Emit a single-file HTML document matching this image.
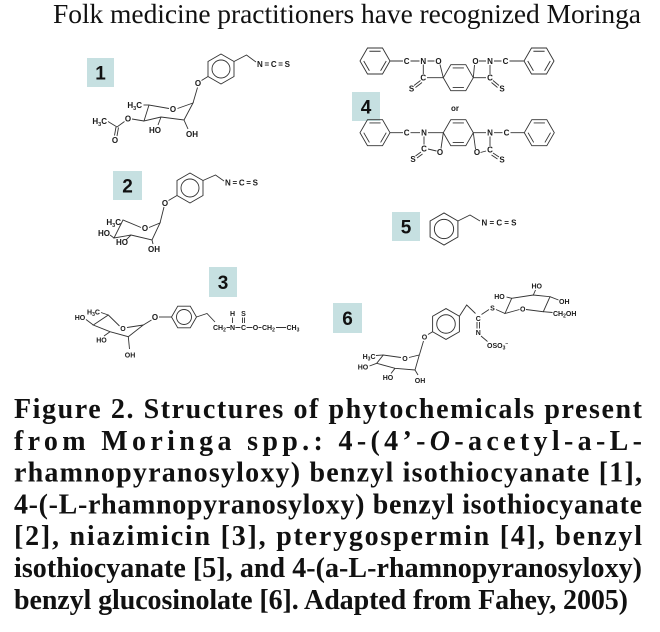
<!DOCTYPE html>
<html><head><meta charset="utf-8"><style>
html,body{margin:0;padding:0;background:#fff;}
svg{display:block;}
.lb{font-family:"Liberation Sans",Arial,sans-serif;font-size:8px;font-weight:bold;fill:#1a1a1a;}
.sm{font-family:"Liberation Sans",Arial,sans-serif;font-size:7px;font-weight:bold;fill:#1a1a1a;}
.num{font-family:"Liberation Sans",Arial,sans-serif;font-size:19px;font-weight:bold;fill:#111;}
.cap{font-family:"Liberation Serif","Times New Roman",serif;font-size:28px;font-weight:bold;fill:#111;}
.ttl{font-family:"Liberation Serif","Times New Roman",serif;font-size:27.5px;fill:#111;}
</style></head><body>
<svg width="660" height="632" viewBox="0 0 660 632" xmlns="http://www.w3.org/2000/svg">
<rect width="660" height="632" fill="#fff"/>
<defs>
 <g id="aro"><polygon points="0,-15 13,-7.5 13,7.5 0,15 -13,7.5 -13,-7.5"/><circle r="9"/></g>
 <g id="aro2"><polygon points="12.5,0 6.25,10.8 -6.25,10.8 -12.5,0 -6.25,-10.8 6.25,-10.8"/><circle r="7.5"/></g>
 <g id="kek"><polygon points="15,0 7.5,13 -7.5,13 -15,0 -7.5,-13 7.5,-13"/><path d="M-5.6,-9.75 L5.6,-9.75 M11.25,0 L5.6,9.75 M-5.6,9.75 L-11.25,0"/></g>
 <g id="dien"><polygon points="15,0 7.5,13 -7.5,13 -15,0 -7.5,-13 7.5,-13"/><path d="M-5.6,-9.75 L5.6,-9.75 M-5.6,9.75 L5.6,9.75"/></g>
</defs>

<text class="ttl" x="53" y="23" textLength="588" lengthAdjust="spacing">Folk medicine practitioners have recognized Moringa</text>

<!-- number boxes -->
<g fill="#c6e0e1">
 <rect x="87" y="58" width="27" height="29"/>
 <rect x="352" y="92" width="28" height="29"/>
 <rect x="113" y="171" width="29" height="29"/>
 <rect x="392" y="212" width="28" height="29"/>
 <rect x="209" y="267" width="28" height="30"/>
 <rect x="333" y="303" width="29" height="30"/>
</g>
<g class="num" text-anchor="middle">
 <text class="num" x="100.5" y="79.5">1</text>
 <text class="num" x="366" y="113.5">4</text>
 <text class="num" x="127.5" y="192.5">2</text>
 <text class="num" x="406" y="233.5">5</text>
 <text class="num" x="223" y="289">3</text>
 <text class="num" x="347.5" y="325">6</text>
</g>

<g stroke="#333" stroke-width="0.9" fill="none">
 <!-- Structure 1 -->
 <use href="#aro" transform="translate(221,69)"/>
 <path d="M234,61.5 L246.5,55 L256,62"/>
 <path d="M208,76.5 L201.5,80.5"/>
 <path d="M197.5,87.5 L193,103"/>
 <path d="M169,108.5 L149,105 L144,121 L161,117 L184,120 L193,103 L177.5,108.5"/>
 <path d="M149,105 L143.5,105"/>
 <path d="M184,120 L188,129"/>
 <path d="M161,117 L158,125"/>
 <path d="M144,121 L132,119"/>
 <path d="M124.5,121.5 L117,127 L108,121.5"/>
 <path d="M116,127 L114.5,135.5 M118.5,127.5 L117,136"/>

 <!-- Structure 2 -->
 <use href="#aro" transform="translate(190,188)"/>
 <path d="M203,180.5 L215.5,175 L224,181"/>
 <path d="M177,195.5 L168.5,200.5"/>
 <path d="M164,207 L160,223"/>
 <path d="M141,227.5 L123,220 L114,238 L131,235 L152,240 L160,223 L149,227.5"/>
 <path d="M114,238 L110,235"/>
 <path d="M131,235 L126,240"/>
 <path d="M152,240 L153,244"/>

 <!-- Structure 3 -->
 <use href="#aro2" transform="translate(184,317)"/>
 <path d="M171.5,317 L159,317"/>
 <path d="M151.5,320 L143.3,325"/>
 <path d="M196.5,317 L207,313.5 L215,322"/>
 <path d="M226.5,327.5 L230,327.5 M235.5,327.5 L240.5,327.5 M246.5,327.5 L252.5,327.5 M258.5,327.5 L261.5,327.5 M276,327.5 L286,327.5"/>
 <path d="M232.5,317.5 L232.5,323"/>
 <path d="M242.5,317.5 L242.5,323 M244.5,317.5 L244.5,323"/>
 <path d="M119.5,326 L108.3,315 L93.3,325 L110,331.7 L128.3,336.7 L143.3,325 L127,327.5"/>
 <path d="M110,331.7 L104,336"/>
 <path d="M128.3,336.7 L129.5,349"/>
 <path d="M93.3,325 L86,319.5"/>
 <path d="M108.3,315 L101,312.5"/>

 <!-- Structure 4 top -->
 <use href="#kek" transform="translate(375,61)"/>
 <path d="M390,61 L403,61 M410.5,61 L419.5,61 M427.5,61 L434.5,61"/>
 <path d="M423.3,64.5 L423.3,74"/>
 <path d="M427,77.7 L443.3,77.7"/>
 <path d="M440,64.5 L443.3,77.7"/>
 <path d="M420.5,80.5 L414,85.5 M422,82.5 L415.5,87.5"/>
 <use href="#dien" transform="translate(458.3,77.7)"/>
 <path d="M473.3,77.7 L474.5,65"/>
 <path d="M479,61 L486,61 M494,61 L501.5,61 M509.5,61 L524,61"/>
 <path d="M490,65 L490,74"/>
 <path d="M486,77.7 L473.3,77.7"/>
 <path d="M493,80.5 L499,85.5 M491.5,82.5 L497.5,87.5"/>
 <use href="#kek" transform="translate(539,61)"/>

 <!-- Structure 4 bottom -->
 <use href="#kek" transform="translate(375,132.7)"/>
 <path d="M390,132.7 L403,132.7 M410.5,132.7 L420,132.7 M428,132.7 L443.3,132.7"/>
 <path d="M424,136.5 L424,144.5"/>
 <path d="M428,149 L436.5,151"/>
 <path d="M441,148.5 L443.3,132.7"/>
 <path d="M421,152 L415.5,156 M422.5,154 L417,158"/>
 <use href="#dien" transform="translate(458.3,132.7)"/>
 <path d="M473.3,132.7 L486,132.7 M494,132.7 L502.5,132.7 M510.5,132.7 L524.3,132.7"/>
 <path d="M490,136.5 L490,146"/>
 <path d="M486,151 L480.5,152.5"/>
 <path d="M475.5,149 L473.3,132.7"/>
 <path d="M493,153 L499,157 M491.5,155 L497.5,159"/>
 <use href="#kek" transform="translate(539.3,132.7)"/>

 <!-- Structure 5 -->
 <use href="#aro" transform="translate(444,229) scale(1.07)"/>
 <path d="M457.9,221 L470,215 L480,221"/>

 <!-- Structure 6 -->
 <use href="#aro" transform="translate(446,324) scale(1.03)"/>
 <path d="M432.6,331.7 L428,334.5"/>
 <path d="M423.5,341 L419.5,354.5"/>
 <path d="M459.4,316.3 L466.7,305 L475.5,313.5"/>
 <path d="M477,322 L477,328.5 M479.5,322 L479.5,328.5"/>
 <path d="M481,336 L487.5,341.5"/>
 <path d="M481.5,314.5 L489,309.5"/>
 <path d="M496,309.5 L505,313.5"/>
 <path d="M519.5,309.5 L505,313.5 L511.7,298.3 L533.3,295 L550,296.7 L543.3,311.7 L526,309.5"/>
 <path d="M511.7,298.3 L506.5,297"/>
 <path d="M533.3,295 L535.5,290"/>
 <path d="M550,296.7 L558.5,300"/>
 <path d="M543.3,311.7 L552.5,312.5"/>
 <path d="M401,357.5 L383.3,355 L376.7,363.3 L395,368.3 L415,370 L419.3,355 L409,357.5"/>
 <path d="M383.3,355 L376,355.5"/>
 <path d="M376.7,363.3 L369.5,366"/>
 <path d="M395,368.3 L391,373.5"/>
 <path d="M415,370 L418,375"/>
</g>

<!-- Labels -->
<g class="lb">
 <!-- 1 -->
 <text class="lb" x="257" y="67" textLength="33" lengthAdjust="spacing">N=C=S</text>
 <text class="lb" x="198" y="86" text-anchor="middle">O</text>
 <text class="lb" x="173" y="112" text-anchor="middle">O</text>
 <text class="lb" x="142" y="108" text-anchor="end">H<tspan font-size="5.5" dy="1.8">3</tspan><tspan dy="-1.8">C</tspan></text>
 <text class="lb" x="192" y="137" text-anchor="middle">OH</text>
 <text class="lb" x="155" y="133" text-anchor="middle">HO</text>
 <text class="lb" x="128" y="121.5" text-anchor="middle">O</text>
 <text class="lb" x="107" y="124" text-anchor="end">H<tspan font-size="5.5" dy="1.8">3</tspan><tspan dy="-1.8">C</tspan></text>
 <text class="lb" x="115" y="143" text-anchor="middle">O</text>
 <!-- 2 -->
 <text class="lb" x="225" y="185.5" textLength="33" lengthAdjust="spacing">N=C=S</text>
 <text class="lb" x="165" y="206" text-anchor="middle">O</text>
 <text class="lb" x="145" y="231" text-anchor="middle">O</text>
 <text class="lb" x="121" y="225" text-anchor="end">H<tspan font-size="5.5" dy="1.8">3</tspan><tspan dy="-1.8">C</tspan></text>
 <text class="lb" x="104" y="236" text-anchor="middle">HO</text>
 <text class="lb" x="122" y="245" text-anchor="middle">HO</text>
 <text class="lb" x="154" y="252" text-anchor="middle">OH</text>
 <!-- 3 -->
 <text class="lb" x="155" y="320" text-anchor="middle">O</text>
 <text class="sm" x="123" y="331" text-anchor="middle">O</text>
 <text class="sm" x="93.5" y="314.5" text-anchor="middle">H<tspan font-size="5" dy="1.6">3</tspan><tspan dy="-1.6">C</tspan></text>
 <text class="sm" x="80" y="320" text-anchor="middle">HO</text>
 <text class="sm" x="101.5" y="342.5" text-anchor="middle">HO</text>
 <text class="sm" x="130" y="357.5" text-anchor="middle">OH</text>
 <text class="sm" x="213" y="330">CH<tspan font-size="5" dy="1.6">2</tspan></text>
 <text class="sm" x="232.5" y="330" text-anchor="middle">N</text>
 <text class="sm" x="243.5" y="330" text-anchor="middle">C</text>
 <text class="sm" x="255.5" y="330" text-anchor="middle">O</text>
 <text class="sm" x="262" y="330">CH<tspan font-size="5" dy="1.6">2</tspan></text>
 <text class="sm" x="286.5" y="330">CH<tspan font-size="5" dy="1.6">3</tspan></text>
 <text class="sm" x="232.5" y="316" text-anchor="middle">H</text>
 <text class="sm" x="243.5" y="316" text-anchor="middle">S</text>
 <!-- 4 top -->
 <text class="lb" x="406.7" y="64" text-anchor="middle">C</text>
 <text class="lb" x="423.3" y="64" text-anchor="middle">N</text>
 <text class="lb" x="438.5" y="64" text-anchor="middle">O</text>
 <text class="lb" x="423.3" y="80.7" text-anchor="middle">C</text>
 <text class="lb" x="411.5" y="91.5" text-anchor="middle">S</text>
 <text class="lb" x="475.5" y="64" text-anchor="middle">O</text>
 <text class="lb" x="490" y="64" text-anchor="middle">N</text>
 <text class="lb" x="505.5" y="64" text-anchor="middle">C</text>
 <text class="lb" x="490" y="80.7" text-anchor="middle">C</text>
 <text class="lb" x="502" y="91.5" text-anchor="middle">S</text>
 <text class="lb" x="455" y="111" text-anchor="middle">or</text>
 <!-- 4 bottom -->
 <text class="lb" x="406.7" y="135.7" text-anchor="middle">C</text>
 <text class="lb" x="424" y="135.7" text-anchor="middle">N</text>
 <text class="lb" x="424" y="151.5" text-anchor="middle">C</text>
 <text class="lb" x="440" y="155" text-anchor="middle">O</text>
 <text class="lb" x="413" y="162" text-anchor="middle">S</text>
 <text class="lb" x="490" y="135.7" text-anchor="middle">N</text>
 <text class="lb" x="506.5" y="135.7" text-anchor="middle">C</text>
 <text class="lb" x="490" y="152.5" text-anchor="middle">C</text>
 <text class="lb" x="477" y="155" text-anchor="middle">O</text>
 <text class="lb" x="502" y="162.5" text-anchor="middle">S</text>
 <!-- 5 -->
 <text class="lb" x="481.5" y="225.5" textLength="35" lengthAdjust="spacing">N=C=S</text>
 <!-- 6 -->
 <text class="sm" x="424.5" y="339.5" text-anchor="middle">O</text>
 <text class="sm" x="478.3" y="321" text-anchor="middle">C</text>
 <text class="sm" x="478.3" y="335" text-anchor="middle">N</text>
 <text class="sm" x="492.5" y="310.5" text-anchor="middle">S</text>
 <text class="sm" x="487" y="348">OSO<tspan font-size="5" dy="1.6">3</tspan><tspan font-size="5" dy="-4.5">−</tspan></text>
 <text class="sm" x="522.7" y="311.5" text-anchor="middle">O</text>
 <text class="sm" x="499.5" y="299" text-anchor="middle">HO</text>
 <text class="sm" x="536.7" y="288.5" text-anchor="middle">HO</text>
 <text class="sm" x="559" y="304">OH</text>
 <text class="sm" x="553" y="316">CH<tspan font-size="5" dy="1.6">2</tspan><tspan dy="-1.6">OH</tspan></text>
 <text class="sm" x="405" y="361" text-anchor="middle">O</text>
 <text class="sm" x="375.5" y="359" text-anchor="end">H<tspan font-size="5" dy="1.6">3</tspan><tspan dy="-1.6">C</tspan></text>
 <text class="sm" x="363" y="369.5" text-anchor="middle">HO</text>
 <text class="sm" x="388" y="380" text-anchor="middle">HO</text>
 <text class="sm" x="420" y="383" text-anchor="middle">OH</text>
</g>

<!-- Caption -->
<text class="cap" x="14" y="418" textLength="628" lengthAdjust="spacing">Figure 2. Structures of phytochemicals present</text>
<text class="cap" x="14" y="449.8" textLength="628" lengthAdjust="spacing">from Moringa spp.: 4-(4’-<tspan font-style="italic">O</tspan>-acetyl-a-L-</text>
<text class="cap" x="14" y="481.6" textLength="628" lengthAdjust="spacing">rhamnopyranosyloxy) benzyl isothiocyanate [1],</text>
<text class="cap" x="14" y="513.4" textLength="628" lengthAdjust="spacing">4-(-L-rhamnopyranosyloxy) benzyl isothiocyanate</text>
<text class="cap" x="14" y="545.2" textLength="628" lengthAdjust="spacing">[2], niazimicin [3], pterygospermin [4], benzyl</text>
<text class="cap" x="14" y="577" textLength="628" lengthAdjust="spacing">isothiocyanate [5], and 4-(a-L-rhamnopyranosyloxy)</text>
<text class="cap" x="14" y="608.8" textLength="614" lengthAdjust="spacing">benzyl glucosinolate [6]. Adapted from Fahey, 2005)</text>
</svg>
</body></html>
